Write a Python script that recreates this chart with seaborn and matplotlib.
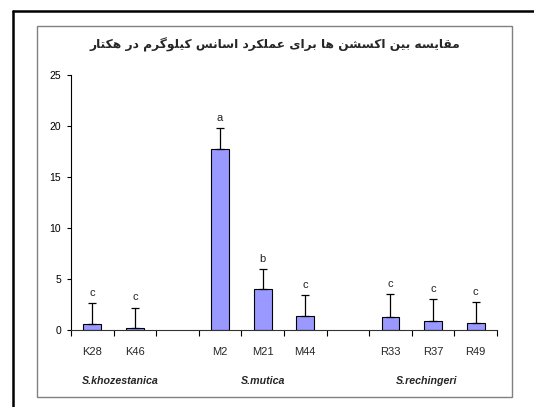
import numpy as np
import pandas as pd
import matplotlib
matplotlib.use("Agg")
import matplotlib.pyplot as plt
from matplotlib.lines import Line2D
from matplotlib.patches import Rectangle
import seaborn as sns

# values
accessions = ["K28", "K46", "M2", "M21", "M44", "R33", "R37", "R49"]
species = ["S.khozestanica", "S.khozestanica", "S.mutica", "S.mutica", "S.mutica",
           "S.rechingeri", "S.rechingeri", "S.rechingeri"]
yield_kg = [0.6, 0.2, 17.7, 4.0, 1.4, 1.3, 0.9, 0.7]
yield_err = [2.0, 2.0, 2.1, 2.0, 2.0, 2.2, 2.1, 2.0]
letters = ["c", "c", "a", "b", "c", "c", "c", "c"]
slot_order = ["K28", "K46", "gap1", "M2", "M21", "M44", "gap2", "R33", "R37", "R49"]
y_ticks = [0, 5, 10, 15, 20, 25]
title_fa = "مقایسه بین اکسشن ها برای عملکرد اسانس کیلوگرم در هکتار"

# Arabic-script presentation forms: (isolated, final, initial, medial)
FORMS = {
    "ا": ("\uFE8D", "\uFE8E", None, None),
    "ب": ("\uFE8F", "\uFE90", "\uFE91", "\uFE92"),
    "ت": ("\uFE95", "\uFE96", "\uFE97", "\uFE98"),
    "د": ("\uFEA9", "\uFEAA", None, None),
    "ر": ("\uFEAD", "\uFEAE", None, None),
    "س": ("\uFEB1", "\uFEB2", "\uFEB3", "\uFEB4"),
    "ش": ("\uFEB5", "\uFEB6", "\uFEB7", "\uFEB8"),
    "ع": ("\uFEC9", "\uFECA", "\uFECB", "\uFECC"),
    "ق": ("\uFED5", "\uFED6", "\uFED7", "\uFED8"),
    "ل": ("\uFEDD", "\uFEDE", "\uFEDF", "\uFEE0"),
    "م": ("\uFEE1", "\uFEE2", "\uFEE3", "\uFEE4"),
    "ن": ("\uFEE5", "\uFEE6", "\uFEE7", "\uFEE8"),
    "ه": ("\uFEE9", "\uFEEA", "\uFEEB", "\uFEEC"),
    "و": ("\uFEED", "\uFEEE", None, None),
    "ی": ("\uFBFC", "\uFBFD", "\uFBFE", "\uFBFF"),
    "ک": ("\uFB8E", "\uFB8F", "\uFB90", "\uFB91"),
    "گ": ("\uFB92", "\uFB93", "\uFB94", "\uFB95"),
}


def shape_rtl(text):
    out = []
    for i, ch in enumerate(text):
        if ch not in FORMS:
            out.append(ch)
            continue
        prev = text[i - 1] if i > 0 else None
        nxt = text[i + 1] if i + 1 < len(text) else None
        join_prev = prev in FORMS and FORMS[prev][2] is not None
        join_next = nxt in FORMS and FORMS[ch][2] is not None
        iso, fin, ini, med = FORMS[ch]
        if join_prev and join_next:
            out.append(med)
        elif join_prev:
            out.append(fin)
        elif join_next:
            out.append(ini)
        else:
            out.append(iso)
    return "".join(out)[::-1]


df = pd.DataFrame({"accession": accessions, "species": species, "yield": yield_kg})

sns.set_theme(style="ticks")
plt.rcParams["font.family"] = ["Liberation Sans", "DejaVu Sans"]

fig = plt.figure(figsize=(5.34, 4.07), dpi=100)
fig.patch.set_facecolor("white")

# outer black border (left/top visible) and inner gray frame
fig.add_artist(Line2D([13 / 534, 13 / 534], [0, 1 - 11 / 407], color="black", lw=1.8))
fig.add_artist(Line2D([13 / 534, 1], [1 - 11 / 407, 1 - 11 / 407], color="black", lw=1.8))
fig.add_artist(Rectangle((37 / 534, 10 / 407), 475 / 534, 371 / 407, fill=False,
                         edgecolor="#808080", lw=1.0, transform=fig.transFigure))

ax = fig.add_axes([71 / 534, 77 / 407, 426 / 534, 255 / 407])
ax.set_facecolor("white")

sns.barplot(data=df, x="accession", y="yield", order=slot_order, color="#9999ff",
            saturation=1, edgecolor="black", linewidth=0.8, width=0.42,
            errorbar=None, ax=ax)

pos = [slot_order.index(a) for a in accessions]
ax.errorbar(pos, yield_kg, yerr=[np.zeros(len(yield_err)), yield_err], fmt="none",
            ecolor="black", elinewidth=0.9, capsize=3, capthick=0.9)
for p, v, e, t in zip(pos, yield_kg, yield_err, letters):
    ax.text(p, v + e + 0.5, t, ha="center", va="bottom", fontsize=8, color="#222222")

ax.set_xlim(-0.5, len(slot_order) - 0.5)
ax.set_ylim(0, 25)
ax.set_yticks(y_ticks)
ax.tick_params(axis="y", labelsize=7.5, length=3, width=0.8, pad=4, colors="black")
ax.set_xticks(np.arange(-0.5, len(slot_order), 1))
ax.set_xticklabels([])
ax.tick_params(axis="x", length=4, width=0.8, direction="out", colors="black")
ax.set_xlabel("")
ax.set_ylabel("")
sns.despine(ax=ax)
ax.spines["left"].set_color("black")
ax.spines["bottom"].set_color("#333333")
ax.spines["left"].set_linewidth(0.8)
ax.spines["bottom"].set_linewidth(0.8)

# accession labels and species group labels
for p, a in zip(pos, accessions):
    ax.text(p, -2.2, a, ha="center", va="center", fontsize=8, clip_on=False)
group_centers = {"S.khozestanica": 0.65, "S.mutica": 4.0, "S.rechingeri": 7.85}
for sp, cx in group_centers.items():
    ax.text(cx, -5.0, sp, ha="center", va="center", fontsize=7.7,
            fontweight="bold", fontstyle="italic", clip_on=False)

fig.text((37 + 512) / 2 / 534, 1 - 45 / 407, shape_rtl(title_fa), ha="center",
         va="center", fontsize=8.8, fontweight="bold", family="DejaVu Sans")

fig.savefig("out.png", dpi=100)
